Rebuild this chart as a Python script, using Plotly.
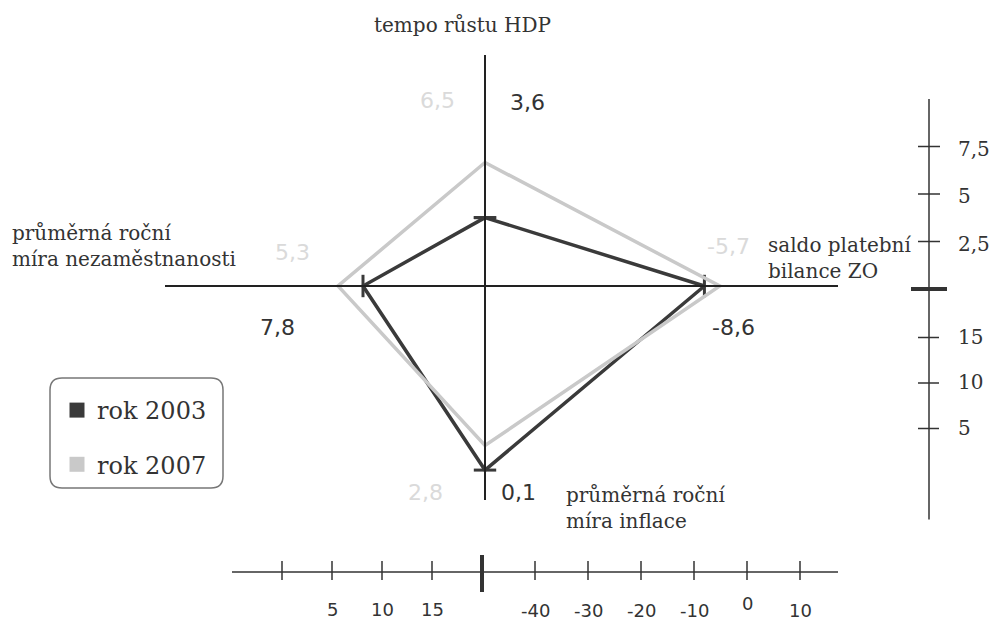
import plotly.graph_objects as go

# ---------------- data ----------------
years = ["rok 2003", "rok 2007"]
gdp_growth = [3.6, 6.5]          # tempo růstu HDP
trade_balance = [-8.6, -5.7]     # saldo platební bilance ZO
inflation = [0.1, 2.8]           # průměrná roční míra inflace
unemployment = [7.8, 5.3]        # průměrná roční míra nezaměstnanosti

gdp_label = ["3,6", "6,5"]
bal_label = ["-8,6", "-5,7"]
inf_label = ["0,1", "2,8"]
un_label = ["7,8", "5,3"]

gdp_ticks = [2.5, 5, 7.5]
gdp_tick_labels = ["2,5", "5", "7,5"]
inf_ticks = [15, 10, 5]
inf_tick_labels = ["15", "10", "5"]
un_ticks = [0, 5, 10, 15]
un_tick_labels = ["", "5", "10", "15"]
bal_ticks = [-40, -30, -20, -10, 0, 10]
bal_tick_labels = ["-40", "-30", "-20", "-10", "0", "10"]

# ---------------- scales (pixel offsets) ----------------
W, H = 998, 620
PAGE_OFF = 8               # default body margin of the page
GDP_PX = 19.0
INF_PX = 9.1
INF_ZERO = 185.0
UN_PX = 10.0
UN_CENTER = 20.0
BAL_PX = 5.3
BAL_CENTER = -50.0

def gdp_off(v):
    return v * GDP_PX

def inf_off(v):
    return INF_ZERO - v * INF_PX

def un_off(v):
    return (UN_CENTER - v) * UN_PX

def bal_off(v):
    return (v - BAL_CENTER) * BAL_PX

CX, CY = 485, 286          # centre of the magic square
RX, RY = 929, 289          # right vertical scale
BX, BY = 482, 572          # bottom horizontal scale

DARK = "#3a3a3a"
GREY = "#c9c9c9"
TEXT = "#333333"
LIGHT_TEXT = "#dadada"
SERIF = "DejaVu Serif"
SANS = "DejaVu Sans"

fig = go.Figure()
shapes = []
annotations = []

# cross axes of the square
shapes.append(dict(type="line", x0=165, x1=838, y0=CY, y1=CY, line=dict(color="#222", width=2)))
shapes.append(dict(type="line", x0=CX, x1=CX, y0=55, y1=500, line=dict(color="#222", width=2)))

# polygons
colors = [DARK, GREY]
for i in range(len(years)):
    xs = [CX, CX + bal_off(trade_balance[i]), CX, CX - un_off(unemployment[i]), CX]
    ys = [CY - gdp_off(gdp_growth[i]), CY, CY + inf_off(inflation[i]), CY, CY - gdp_off(gdp_growth[i])]
    marker = dict(size=0)
    mode = "lines"
    if i == 0:
        mode = "lines+markers"
        marker = dict(symbol=["line-ew", "line-ns", "line-ew", "line-ns", "line-ew"], size=16,
                      line=dict(color=DARK, width=3), color=DARK)
    fig.add_trace(go.Scatter(x=xs, y=ys, mode=mode, line=dict(color=colors[i], width=3.5),
                             marker=marker, showlegend=False, hoverinfo="skip"))

# legend-only traces
for i in range(len(years)):
    fig.add_trace(go.Scatter(x=[None], y=[None], mode="markers", name=years[i],
                             legendgroup=years[i],
                             marker=dict(symbol="square", size=15, color=colors[i])))

# value labels
def lab(x, y, t, color, size=22, font=SANS, anchor="center"):
    annotations.append(dict(x=x, y=y, text=t, showarrow=False, xref="x", yref="y",
                            xanchor=anchor, yanchor="middle",
                            font=dict(family=font, size=size, color=color)))

lab(527, 102, gdp_label[0], TEXT)
lab(437, 100, gdp_label[1], LIGHT_TEXT)
lab(277, 327, un_label[0], TEXT)
lab(292, 252, un_label[1], LIGHT_TEXT)
lab(733, 327, bal_label[0], TEXT)
lab(728, 246, bal_label[1], LIGHT_TEXT)
lab(518, 492, inf_label[0], TEXT)
lab(425, 492, inf_label[1], LIGHT_TEXT)

# axis titles
def title(x, y, t, size=20):
    annotations.append(dict(x=x, y=y, text=t, showarrow=False, xref="x", yref="y",
                            xanchor="left", yanchor="middle", align="left",
                            font=dict(family=SERIF, size=size, color=TEXT)))

annotations.append(dict(x=462, y=25, text="tempo růstu HDP", showarrow=False, xref="x", yref="y",
                        xanchor="center", yanchor="middle",
                        font=dict(family=SERIF, size=20, color=TEXT)))
title(10, 246, "průměrná roční<br>míra nezaměstnanosti")
title(766, 258, "saldo platební<br>bilance ZO")
title(564, 508, "průměrná roční<br>míra inflace")

# right vertical scale
shapes.append(dict(type="line", x0=RX, x1=RX, y0=RY - gdp_off(10), y1=RY + inf_off(-5),
                   line=dict(color="#333", width=1.5)))
shapes.append(dict(type="line", x0=RX - 18, x1=RX + 18, y0=RY, y1=RY, line=dict(color="#333", width=4)))
for v, t in zip(gdp_ticks, gdp_tick_labels):
    y = RY - gdp_off(v)
    shapes.append(dict(type="line", x0=RX - 11, x1=RX + 11, y0=y, y1=y, line=dict(color="#333", width=1.5)))
    lab(956, y + 2, t, TEXT, size=20, font=SERIF, anchor="left")
for v, t in zip(inf_ticks, inf_tick_labels):
    y = RY + inf_off(v)
    shapes.append(dict(type="line", x0=RX - 11, x1=RX + 10, y0=y, y1=y, line=dict(color="#333", width=1.5)))
    lab(956, y - 1, t, TEXT, size=20, font=SERIF, anchor="left")

# bottom horizontal scale
shapes.append(dict(type="line", x0=BX - un_off(-5), x1=838, y0=BY, y1=BY, line=dict(color="#333", width=1.5)))
shapes.append(dict(type="line", x0=BX, x1=BX, y0=BY - 17, y1=BY + 20, line=dict(color="#333", width=4)))
for v, t in zip(un_ticks, un_tick_labels):
    x = BX - un_off(v)
    shapes.append(dict(type="line", x0=x, x1=x, y0=BY - 11, y1=BY + 8, line=dict(color="#333", width=1.5)))
    if t:
        lab(x, 609, t, TEXT, size=18)
for v, t in zip(bal_ticks, bal_tick_labels):
    x = BX + bal_off(v)
    shapes.append(dict(type="line", x0=x, x1=x, y0=BY - 11, y1=BY + 8, line=dict(color="#333", width=1.5)))
    lab(x, 603 if v == 0 else 610, t, TEXT, size=18)

# legend box (rounded)
lx0, lx1, ly0, ly1, r = 50, 223, 378, 488, 12
path = (f"M {lx0+r},{ly0} L {lx1-r},{ly0} Q {lx1},{ly0} {lx1},{ly0+r} L {lx1},{ly1-r} "
        f"Q {lx1},{ly1} {lx1-r},{ly1} L {lx0+r},{ly1} Q {lx0},{ly1} {lx0},{ly1-r} "
        f"L {lx0},{ly0+r} Q {lx0},{ly0} {lx0+r},{ly0} Z")
shapes.append(dict(type="path", path=path, line=dict(color="#777", width=1.5), xref="x", yref="y"))

FW, FH = W - PAGE_OFF, H - PAGE_OFF
fig.update_layout(
    width=FW, height=FH, autosize=False,
    margin=dict(l=0, r=0, t=0, b=0),
    paper_bgcolor="white", plot_bgcolor="white",
    xaxis=dict(range=[PAGE_OFF, W], visible=False, fixedrange=True),
    yaxis=dict(range=[H, PAGE_OFF], visible=False, fixedrange=True),
    shapes=shapes, annotations=annotations,
    showlegend=True,
    legend=dict(x=(57 - PAGE_OFF) / FW, y=1 - (388 - PAGE_OFF) / FH, xanchor="left", yanchor="top",
                bgcolor="rgba(0,0,0,0)", font=dict(family=SERIF, size=24, color=TEXT),
                traceorder="grouped", tracegroupgap=20, itemwidth=30),
)

fig.write_html("out.html")
